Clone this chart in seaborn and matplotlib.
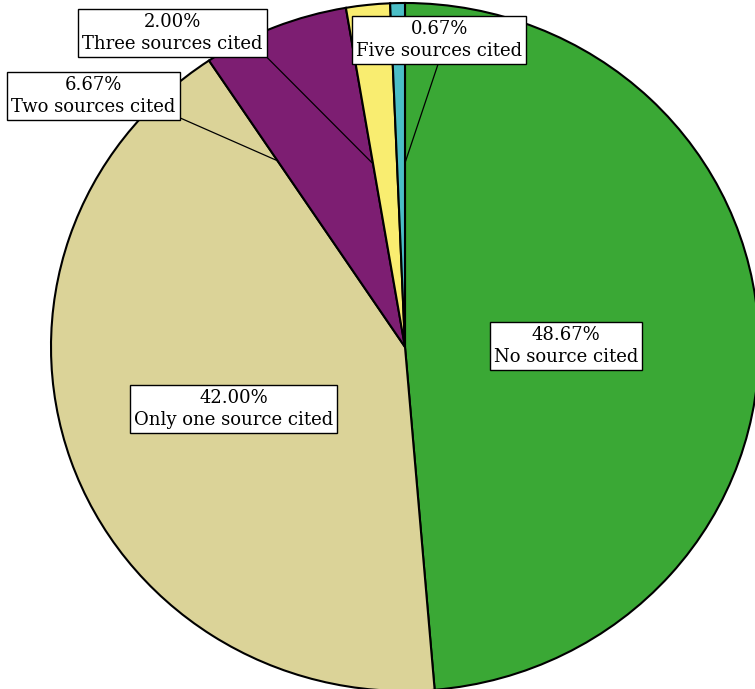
import numpy as np
import matplotlib
matplotlib.use("Agg")
import matplotlib.pyplot as plt
import seaborn as sns

# Share of articles by number of sources cited
categories = ["No source cited", "Only one source cited", "Two sources cited",
              "Three sources cited", "Five sources cited"]
shares = [48.67, 42.00, 6.67, 2.00, 0.67]
colors = ["#3aa835", "#dbd398", "#7d1e72", "#f9ed70", "#4bbec6"]

# Label box centres (data units, pie radius = 1) and leader-line settings
label_pos = [(0.455, 0.003), (-0.484, -0.180), (-0.880, 0.730),
             (-0.657, 0.913), (0.097, 0.892)]
leader_radius = [None, None, 0.65, 0.54, 0.535]
leader_edge = [None, None, "theta2", "theta2", "theta1"]
leader_relpos = [None, None, (1.0, 0.0), (1.0, 0.0), (0.5, 0.0)]

sns.set_style("white")
plt.rcParams["font.family"] = ["DejaVu Serif", "DejaVu Sans"]
plt.rcParams["text.color"] = "black"

fig = plt.figure(figsize=(7.55, 6.89), dpi=100)
ax = fig.add_axes([0, 0, 1, 1])

wedges, _ = ax.pie(shares, colors=colors, startangle=90, counterclock=False,
                   wedgeprops=dict(edgecolor="black", linewidth=1.5))
ax.set_aspect("auto")
ax.set_xlim(-405 / 354, (755 - 405) / 354)
ax.set_ylim(-(689 - 347) / 344, 347 / 344)
ax.axis("off")

box = dict(boxstyle="square,pad=0.22", facecolor="white", edgecolor="black", linewidth=1.0)
for i, (cat, val) in enumerate(zip(categories, shares)):
    text = f"{val:.2f}%\n{cat}"
    if leader_radius[i] is None:
        ax.text(*label_pos[i], text, ha="center", va="center", fontsize=13,
                color="black", bbox=box, linespacing=1.3)
    else:
        w = wedges[i]
        ang = np.deg2rad(getattr(w, leader_edge[i]))
        r = leader_radius[i]
        target = (r * np.cos(ang), r * np.sin(ang))
        ax.annotate(text, xy=target, xytext=label_pos[i], ha="center", va="center",
                    fontsize=13, color="black", bbox=box, linespacing=1.3,
                    arrowprops=dict(arrowstyle="-", color="black", lw=0.9,
                                    relpos=leader_relpos[i], shrinkA=0, shrinkB=0))

fig.savefig("out.png", dpi=100)
